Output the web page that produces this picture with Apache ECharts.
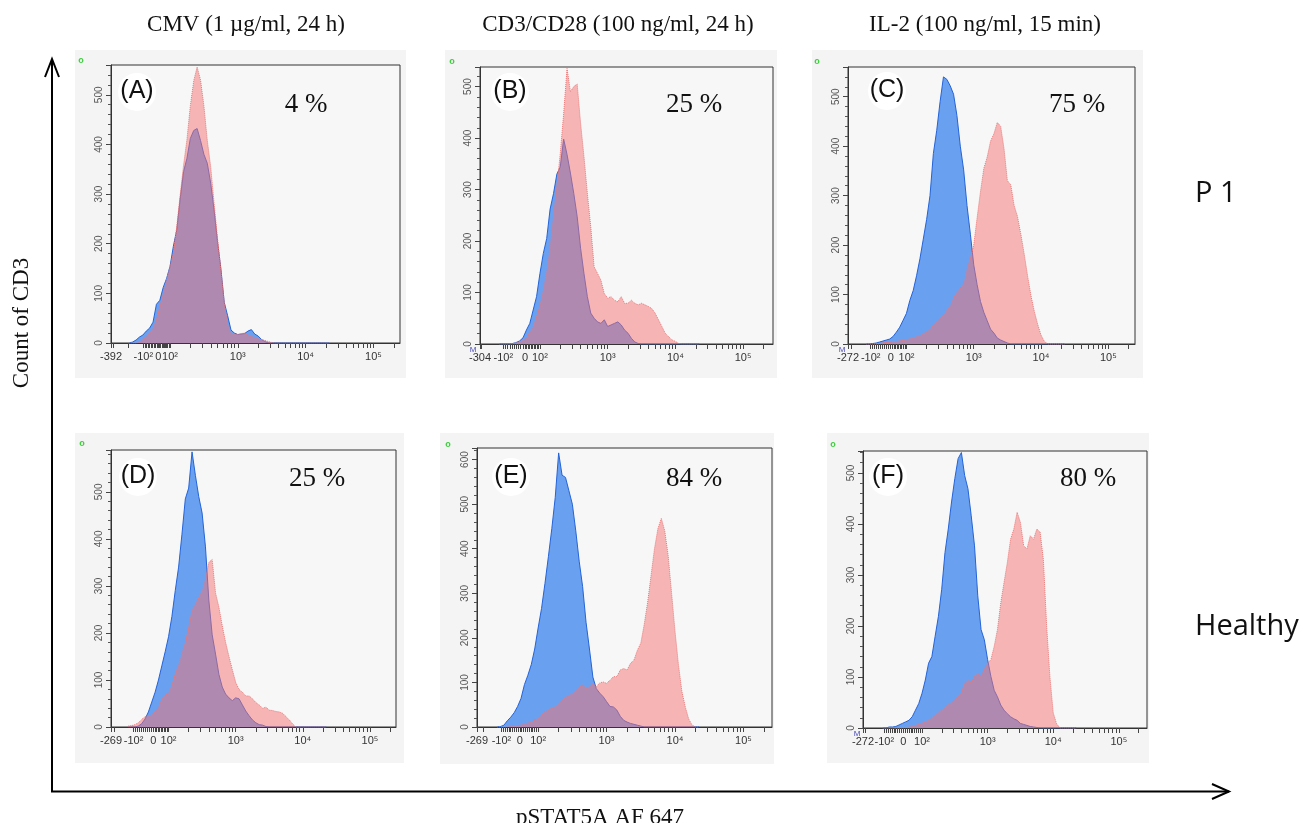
<!DOCTYPE html>
<html><head><meta charset="utf-8">
<script src="https://cdn.jsdelivr.net/npm/echarts@6/dist/echarts.min.js"></script>
<style>html,body{margin:0;padding:0;background:#fff}#c{width:1314px;height:823px}</style>
</head><body><div id="c"></div>
<script>
// ---- bin positions on the display (logicle-like) scale: 2 = 10^2, 3 = 10^3 ...
const binPos = [1.40,1.45,1.50,1.55,1.60,1.65,1.70,1.75,1.80,1.85,
  1.90,1.95,2.00,2.05,2.10,2.15,2.20,2.25,2.30,2.35,
  2.40,2.45,2.50,2.55,2.60,2.65,2.70,2.75,2.80,2.85,
  2.90,2.95,3.00,3.05,3.10,3.15,3.20,3.25,3.30,3.35,
  3.40,3.45,3.50,3.55,3.60,3.65,3.70,3.75,3.80,3.85,
  3.90,3.95,4.00,4.05,4.10,4.15,4.20,4.25,4.30,4.35];

// ---- counts (blue = unstimulated, pink = stimulated)
const blueA = [0,2,6,12,16,24,30,42,78,86, 112,130,154,195,228,290,345,372,412,428, 432,408,380,362,322,268,205,150,82,55, 26,20,17,18,19,24,27,18,14,7, 3,0,0,0,0,0,0,0,0,0, 0,0,0,0,0,0,0,0,0,0];
const pinkA = [0,0,0,2,8,12,20,30,46,72, 100,128,154,181,235,298,358,410,478,528, 556,530,478,408,355,282,212,148,82,38, 20,18,17,19,20,16,13,11,9,7, 5,3,1,0,0,0,0,0,0,0, 0,0,0,0,0,0,0,0,0,0];
const blueB = [0,0,0,0,1,3,6,12,27,40, 66,92,137,176,205,262,292,330,344,398, 368,332,292,247,186,137,92,60,50,43, 40,47,34,37,40,43,37,27,21,11, 4,1,0,0,0,0,0,0,0,0, 0,0,0,0,0,0,0,0,0,0];
const pinkB = [0,0,0,0,1,3,5,8,11,22, 34,52,73,105,144,189,247,306,370,447, 535,490,500,505,429,364,293,228,150,137, 124,98,89,92,85,82,92,79,79,85, 79,76,79,76,73,69,60,47,34,21, 14,8,5,1,0,0,0,0,0,0];
const blueC = [0,0,1,2,4,6,8,10,15,24, 34,48,62,88,108,138,172,212,252,300, 385,432,490,540,535,522,505,462,400,352, 280,222,160,120,86,64,47,30,22,12, 8,5,2,0,0,0,0,0,0,0, 0,0,0,0,0,0,0,0,0,0];
const pinkC = [0,0,0,0,1,2,3,4,5,5, 6,7,9,10,12,15,17,21,24,28, 38,45,50,58,67,78,92,104,112,122, 152,172,200,255,308,355,378,410,425,448, 440,395,330,322,280,258,222,182,138,98, 66,40,18,5,0,0,0,0,0,0];
const blueD = [0,0,0,2,7,17,32,53,74,100, 130,160,192,235,290,340,410,485,508,585, 535,490,455,383,270,196,155,112,85,70, 62,56,62,60,47,34,24,15,9,5, 4,1,0,0,0,0,0,0,0,0, 0,0,0,0,0,0,0,0,0,0];
const pinkD = [2,3,5,9,16,22,24,26,32,42, 58,68,72,88,112,132,158,178,210,248, 262,274,290,315,350,356,285,255,215,180, 150,122,95,80,74,66,66,60,52,47, 40,42,36,35,33,32,29,22,15,6, 0,0,0,0,0,0,0,0,0,0];
const blueE = [0,1,4,14,22,32,46,64,95,116, 140,175,222,266,322,382,445,515,615,565, 560,530,500,440,372,315,235,175,112,86, 76,68,57,46,45,38,24,15,11,8, 6,4,2,0,0,0,0,0,0,0, 0,0,0,0,0,0,0,0,0,0];
const pinkE = [0,0,0,1,2,2,4,5,7,9, 11,15,19,26,34,38,42,45,52,60, 66,70,75,82,90,94,86,90,98,90, 99,101,98,105,113,113,128,131,128,143, 150,172,188,230,280,340,400,445,468,440, 385,300,215,140,80,45,18,4,0,0];
const blueF = [0,0,2,2,3,6,9,12,15,22, 35,48,68,94,127,140,180,219,272,344, 390,443,489,528,540,495,469,416,357,259, 193,173,134,101,74,61,45,35,28,22, 18,15,9,7,5,3,2,1,0,0, 0,0,0,0,0,0,0,0,0,0];
const pinkF = [0,0,0,0,0,0,0,1,2,3, 5,7,9,12,15,20,25,30,35,40, 45,50,55,62,68,88,94,88,101,107, 101,114,127,134,160,193,245,285,324,370, 390,423,403,357,351,377,370,390,384,330, 200,100,30,9,0,0,0,0,0,0];

const blueSets = [blueA, blueB, blueC, blueD, blueE, blueF];
const pinkSets = [pinkA, pinkB, pinkC, pinkD, pinkE, pinkF];

// ---- texts
const columnTitles = ['CMV (1 µg/ml, 24 h)', 'CD3/CD28 (100 ng/ml, 24 h)', 'IL-2 (100 ng/ml, 15 min)'];
const rowLabels = ['P 1', 'Healthy'];
const panelLetters = ['(A)', '(B)', '(C)', '(D)', '(E)', '(F)'];
const percents = ['4 %', '25 %', '75 %', '25 %', '84 %', '80 %'];
const minTickLabels = ['-392', '-304', '-272', '-269', '-269', '-272'];
const namedTickLabels = ['-10²', '0', '10²', '10³', '10⁴', '10⁵'];
const yMaxCounts = [560, 538, 560, 589, 626, 543];
const yAxisTitle = 'Count of CD3';
const xAxisTitle = 'pSTAT5A AF 647';

// ---- display-scale extents per panel (display units)
const scales = [
  {min:1.130, max:5.392, zero:1.827, neg:1.606},
  {min:1.115, max:5.441, zero:1.779, neg:1.459},
  {min:1.131, max:5.397, zero:1.766, neg:1.469},
  {min:1.143, max:5.388, zero:1.772, neg:1.479},
  {min:1.107, max:5.417, zero:1.732, neg:1.464},
  {min:1.100, max:5.430, zero:1.715, neg:1.425}
];

// ---- layout (pixels)
const layout = [
  {grid:{left:111,top:65,width:289,height:278}, box:[75,50,331,328], o:[81,61], letter:[137,91], pct:[306,105], m:null},
  {grid:{left:480,top:67,width:293,height:277}, box:[445,50,332,328], o:[452,62], letter:[510,91], pct:[694,105], m:[473,350]},
  {grid:{left:848,top:67,width:287,height:277}, box:[812,50,331,328], o:[817,62], letter:[887,90], pct:[1077,105], m:[842,350]},
  {grid:{left:111,top:450,width:285,height:277}, box:[75,433,329,330], o:[82,444], letter:[138,476], pct:[317,479], m:null},
  {grid:{left:477,top:448,width:295,height:279}, box:[440,433,334,331], o:[448,445], letter:[511,476], pct:[694,479], m:null},
  {grid:{left:863,top:451,width:284,height:277}, box:[827,433,322,330], o:[833,445], letter:[888,476], pct:[1088,479], m:[857,734]}
];

function tickValues(s) {
  const t = [s.min];
  const negSlope = (s.zero - s.neg) / 100, posSlope = (2 - s.zero) / 100;
  [-300,-200,-100,-90,-80,-70,-60,-50,-40,-30,-20,-10].forEach(x => {
    const u = s.zero + x * negSlope; if (u > s.min + 0.01) t.push(u);
  });
  t.push(s.zero);
  [10,20,30,40,50,60,70,80,90].forEach(x => t.push(s.zero + x * posSlope));
  for (let d = 2; d <= 5; d++) for (let k = 1; k <= 9; k++) {
    const u = d + Math.log10(k); if (u <= s.max) t.push(u);
  }
  return t;
}

const chart = echarts.init(document.getElementById('c'), null, {renderer:'canvas'});
const grids = [], xAxes = [], yAxes = [], series = [], graphics = [];
const serif = '"Liberation Serif","Times New Roman",serif';
const sans = '"Liberation Sans",Arial,sans-serif';

layout.forEach((L, i) => {
  const s = scales[i];
  grids.push(Object.assign({show:true, backgroundColor:'#f7f7f7', borderColor:'#333', borderWidth:1}, L.grid));
  const labelVals = [s.min, s.neg, s.zero, 2, 3, 4, 5];
  const labelTxt = [minTickLabels[i]].concat(namedTickLabels);
  xAxes.push({
    type:'value', gridIndex:i, min:s.min, max:s.max,
    axisLine:{show:true, lineStyle:{color:'#333', width:1}},
    axisTick:{show:true, length:5, customValues:tickValues(s), lineStyle:{color:'#444', width:1}},
    axisLabel:{show:true, customValues:labelVals, margin:8, fontSize:11, fontFamily:sans, color:'#333',
      formatter: v => { for (let k = 0; k < labelVals.length; k++) if (Math.abs(v - labelVals[k]) < 1e-6) return labelTxt[k]; return ''; }},
    splitLine:{show:false}
  });
  yAxes.push({
    type:'value', gridIndex:i, min:0, max:yMaxCounts[i], interval:100,
    axisLine:{show:true, lineStyle:{color:'#333'}},
    axisTick:{show:true, length:5, lineStyle:{color:'#444'}},
    minorTick:{show:true, splitNumber:5, length:3, lineStyle:{color:'#555'}},
    axisLabel:{rotate:90, margin:7, fontSize:10, fontFamily:sans, color:'#555', showMaxLabel:false},
    splitLine:{show:false}, minorSplitLine:{show:false}
  });
  series.push({
    type:'line', xAxisIndex:i, yAxisIndex:i, symbol:'none', silent:true, z:2,
    data: binPos.map((u, k) => [u, blueSets[i][k]]),
    lineStyle:{color:'#2463d6', width:1},
    areaStyle:{color:'#6aa0f0', opacity:1}
  });
  series.push({
    type:'line', xAxisIndex:i, yAxisIndex:i, symbol:'none', silent:true, z:3,
    data: binPos.map((u, k) => [u, pinkSets[i][k]]),
    lineStyle:{color:'#e87a7a', width:1, type:'dotted'},
    areaStyle:{color:'rgba(245,113,113,0.5)', opacity:1}
  });
  graphics.push({type:'rect', z:-10, shape:{x:L.box[0], y:L.box[1], width:L.box[2], height:L.box[3]}, style:{fill:'#f4f4f4'}});
  graphics.push({type:'text', z:100, x:L.o[0], y:L.o[1], style:{text:'o', fill:'#3fcf3f', font:'bold 9px ' + sans, align:'center', verticalAlign:'middle'}});
  graphics.push({type:'circle', z:100, shape:{cx:L.letter[0], cy:L.letter[1] + 1, r:19}, style:{fill:'#ffffff'}});
  graphics.push({type:'text', z:101, x:L.letter[0], y:L.letter[1], style:{text:panelLetters[i], fill:'#111', font:'25px ' + sans, align:'center', verticalAlign:'middle'}});
  graphics.push({type:'text', z:101, x:L.pct[0], y:L.pct[1], style:{text:percents[i], fill:'#111', font:'27px ' + serif, align:'center', verticalAlign:'middle'}});
  if (L.m) graphics.push({type:'text', z:101, x:L.m[0], y:L.m[1], style:{text:'M', fill:'#4a4ab8', font:'8px ' + sans, align:'center', verticalAlign:'middle'}});
});

const titleX = [246, 618, 985];
columnTitles.forEach((t, k) => graphics.push({type:'text', z:100, x:titleX[k], y:25, style:{text:t, fill:'#111', font:'23px ' + serif, align:'center', verticalAlign:'middle'}}));
const rowY = [194, 627];
rowLabels.forEach((t, k) => graphics.push({type:'text', z:100, x:1195, y:rowY[k], style:{text:t, fill:'#111', font:'29px "Open Sans","Noto Sans",sans-serif', align:'left', verticalAlign:'middle'}}));
graphics.push({type:'text', z:100, x:22, y:323, rotation:Math.PI/2, style:{text:yAxisTitle, fill:'#111', font:'23px ' + serif, align:'center', verticalAlign:'middle'}});
graphics.push({type:'text', z:100, x:600, y:818, style:{text:xAxisTitle, fill:'#111', font:'23px ' + serif, align:'center', verticalAlign:'middle'}});
graphics.push({type:'line', z:100, shape:{x1:52, y1:792, x2:52, y2:59}, style:{stroke:'#000', lineWidth:2}});
graphics.push({type:'polyline', z:100, shape:{points:[[45,77],[52,59],[59,77]]}, style:{stroke:'#000', lineWidth:2, fill:null}});
graphics.push({type:'line', z:100, shape:{x1:51, y1:791.5, x2:1229, y2:791.5}, style:{stroke:'#000', lineWidth:2}});
graphics.push({type:'polyline', z:100, shape:{points:[[1212,784],[1229,791.5],[1212,799]]}, style:{stroke:'#000', lineWidth:2, fill:null}});

chart.setOption({
  backgroundColor:'#ffffff', animation:false,
  grid:grids, xAxis:xAxes, yAxis:yAxes, series:series,
  graphic:{elements:graphics}
});
</script></body></html>
